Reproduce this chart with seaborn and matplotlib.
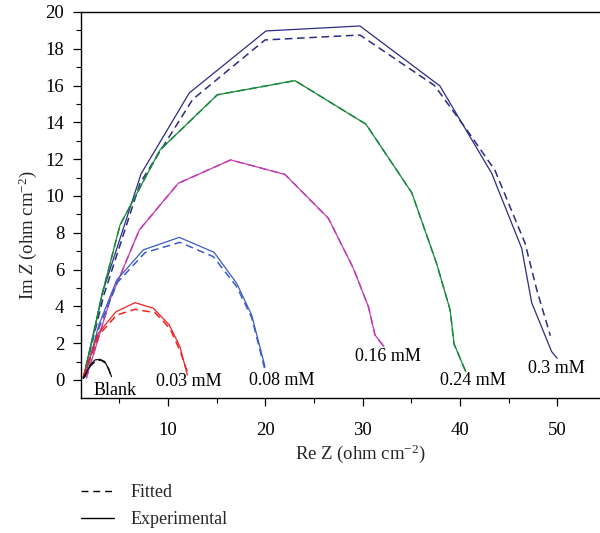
import matplotlib
matplotlib.use("Agg")
import matplotlib.pyplot as plt
import seaborn as sns
import pandas as pd
from matplotlib.lines import Line2D
from matplotlib.ticker import MultipleLocator

# ---------------- data ----------------
blank_exp_x = [1.3, 2.0, 2.5, 3.0, 3.5, 3.9, 4.2]
blank_exp_y = [0.09, 0.8, 1.09, 1.12, 1.0, 0.6, 0.18]
blank_fit_x = [1.3, 2.0, 2.6, 3.1, 3.5, 3.9, 4.1]
blank_fit_y = [0.09, 0.75, 1.05, 1.08, 0.95, 0.6, 0.3]

c003_exp_x = [1.3, 2.84, 4.66, 6.61, 8.49, 10.13, 11.23, 11.99]
c003_exp_y = [0.18, 2.54, 3.71, 4.2, 3.9, 2.99, 1.81, 0.27]
c003_fit_x = [1.3, 2.9, 4.73, 6.61, 8.66, 10.2, 11.23, 12.09]
c003_fit_y = [0.18, 2.45, 3.53, 3.84, 3.66, 2.8, 1.6, 0.27]

c008_exp_x = [1.47, 2.9, 4.73, 7.46, 11.16, 14.73, 17.06, 18.6, 19.97]
c008_exp_y = [0.18, 3.0, 5.43, 7.07, 7.75, 6.94, 5.25, 3.53, 0.72]
c008_fit_x = [1.47, 2.95, 4.8, 7.64, 11.23, 14.66, 17.06, 18.6, 19.97]
c008_fit_y = [0.18, 2.9, 5.3, 6.92, 7.48, 6.7, 5.07, 3.4, 0.54]

c016_exp_x = [1.6, 4.04, 7.05, 11.06, 16.44, 22.02, 26.48, 29.05, 30.6, 31.27, 32.2]
c016_exp_y = [0.1, 4.35, 8.15, 10.69, 11.96, 11.17, 8.79, 6.07, 3.98, 2.45, 1.81]

c024_exp_x = [1.3, 2.4, 3.2, 5.07, 9.18, 15.07, 23.05, 30.35, 35.05, 37.6, 39.0, 39.4, 40.6]
c024_exp_y = [0.1, 2.6, 4.6, 8.42, 12.5, 15.5, 16.27, 13.9, 10.18, 6.34, 3.8, 1.96, 0.45]

c03_exp_x = [1.3, 3.3, 7.23, 12.19, 20.07, 29.73, 37.95, 43.27, 46.35, 47.38, 49.43, 50.0]
c03_exp_y = [0.1, 4.8, 11.2, 15.6, 18.97, 19.24, 15.98, 11.23, 7.16, 4.2, 1.54, 1.18]
c03_fit_x = [1.3, 3.4, 7.13, 12.54, 19.97, 29.73, 37.4, 40.7, 43.6, 46.7, 47.9, 49.3]
c03_fit_y = [0.1, 4.6, 10.7, 15.25, 18.48, 18.75, 16.0, 13.6, 11.4, 7.43, 4.9, 2.4]

label_text = ["Blank", "0.03 mM", "0.08 mM", "0.16 mM", "0.24 mM", "0.3 mM"]
label_x = [4.55, 12.1, 21.7, 32.6, 41.3, 49.9]
label_y = [-0.55, -0.1, -0.05, 1.3, -0.05, 0.6]

x_ticks = [10, 20, 30, 40, 50]
y_ticks = [0, 2, 4, 6, 8, 10, 12, 14, 16, 18, 20]

# ---------------- style ----------------
sns.set_style("ticks")
plt.rcParams["font.family"] = ["Liberation Serif", "DejaVu Serif"]
plt.rcParams["mathtext.fontset"] = "custom"
plt.rcParams["mathtext.rm"] = "Liberation Serif"
plt.rcParams["mathtext.it"] = "Liberation Serif:italic"

col_blank = "#111111"
col_003 = "#ee2222"
col_008 = "#3a5cc4"
col_016 = "#c040b4"
col_024 = "#178a3c"
col_03 = "#2c2c82"

fig = plt.figure(figsize=(6.0, 5.33), dpi=100)
ax = fig.add_axes([0.135, 0.2533, 0.865, 0.7242])

LW = 0.9
DASH = (5, 3)

def draw(xs, ys, color, dashed):
    df = pd.DataFrame({"x": xs, "y": ys})
    kw = dict(data=df, x="x", y="y", sort=False, estimator=None, color=color,
              linewidth=LW if not dashed else 1.1, ax=ax, legend=False)
    line = sns.lineplot(**kw).lines[-1]
    if dashed:
        line.set_dashes(DASH)

draw(c03_fit_x, c03_fit_y, col_03, True)
draw(c03_exp_x, c03_exp_y, col_03, False)
draw(c024_exp_x, c024_exp_y, col_024, True)
draw(c024_exp_x, c024_exp_y, col_024, False)
draw(c016_exp_x, c016_exp_y, col_016, True)
draw(c016_exp_x, c016_exp_y, col_016, False)
draw(c008_fit_x, c008_fit_y, col_008, True)
draw(c008_exp_x, c008_exp_y, col_008, False)
draw(c003_fit_x, c003_fit_y, col_003, True)
draw(c003_exp_x, c003_exp_y, col_003, False)
draw(blank_fit_x, blank_fit_y, col_blank, True)
draw(blank_exp_x, blank_exp_y, col_blank, False)

for t, x, y in zip(label_text, label_x, label_y):
    ax.text(x, y, t, ha="center", va="center", fontsize=13, color="black")

ax.set_xlim(1.06, 54.4)
ax.set_ylim(-0.98, 20.0)
ax.set_xticks(x_ticks)
ax.set_yticks(y_ticks)
ax.xaxis.set_minor_locator(MultipleLocator(5))
ax.yaxis.set_minor_locator(MultipleLocator(1))
ax.tick_params(which="major", direction="out", length=6, width=0.9, labelsize=13.5,
               color="black", labelcolor="black")
ax.tick_params(axis="x", which="major", pad=11)
ax.tick_params(axis="y", which="major", pad=6)
ax.tick_params(which="minor", direction="out", length=3.5, width=0.8, color="black")

for s in ["left", "bottom", "top"]:
    ax.spines[s].set_visible(True)
    ax.spines[s].set_color("black")
    ax.spines[s].set_linewidth(1.0)
ax.spines["right"].set_visible(False)

ax.set_xlabel(r"Re Z (ohm cm$^{-2}$)", fontsize=13.5)
ax.set_ylabel(r"Im $Z$ (ohm cm$^{-2}$)", fontsize=13.5)
ax.xaxis.set_label_coords((360 - 81) / 519, -(442 - 398) / 386)
ax.yaxis.set_label_coords(-(81 - 39) / 519, (398 - 235) / 386)

handles = [Line2D([0], [0], color="black", lw=1.0, dashes=(5, 3.5)),
           Line2D([0], [0], color="black", lw=1.0)]
fig.legend(handles, ["Fitted", "Experimental"], loc="upper left",
           bbox_to_anchor=(81 / 600, 1 - 484 / 533), frameon=False,
           fontsize=13, handlelength=1.85, handletextpad=0.9,
           labelspacing=0.55, borderpad=0, borderaxespad=0)

fig.savefig("out.png", dpi=100)
